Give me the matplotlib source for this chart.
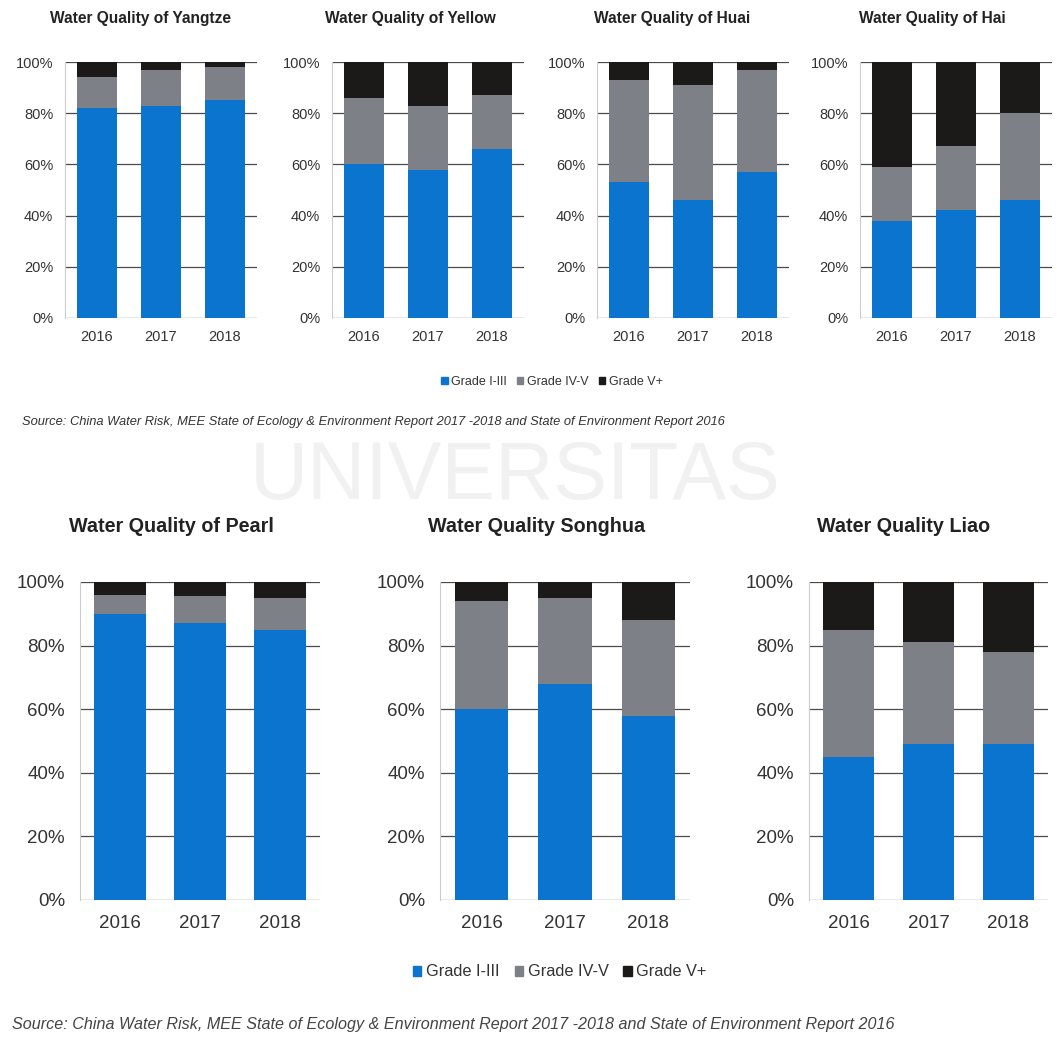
import numpy as np
import matplotlib.pyplot as plt
from matplotlib.patches import Patch

plt.rcParams['font.family'] = ['Liberation Sans', 'DejaVu Sans']

# ---------- data ----------
years = ['2016', '2017', '2018']
grades = ['Grade I-III', 'Grade IV-V', 'Grade V+']

yangtze_good = [82, 83, 85]
yangtze_mid = [12, 14, 13]
yangtze_bad = [6, 3, 2]

yellow_good = [60, 58, 66]
yellow_mid = [26, 25, 21]
yellow_bad = [14, 17, 13]

huai_good = [53, 46, 57]
huai_mid = [40, 45, 40]
huai_bad = [7, 9, 3]

hai_good = [38, 42, 46]
hai_mid = [21, 25, 34]
hai_bad = [41, 33, 20]

pearl_good = [90, 87, 85]
pearl_mid = [6, 8.5, 10]
pearl_bad = [4, 4.5, 5]

songhua_good = [60, 68, 58]
songhua_mid = [34, 27, 30]
songhua_bad = [6, 5, 12]

liao_good = [45, 49, 49]
liao_mid = [40, 32, 29]
liao_bad = [15, 19, 22]

source_text = ('Source: China Water Risk, MEE State of Ecology & Environment Report 2017 -2018 '
               'and State of Environment Report 2016')

colors = ['#0B74CF', '#7E8087', '#1B1A18']

# ---------- layout (pixels) ----------
W, H = 1057, 1043
fig = plt.figure(figsize=(W / 100, H / 100), dpi=100)
fig.patch.set_facecolor('white')


def px_axes(x0, y0, x1, y1):
    # y0 = top edge, y1 = bottom edge in pixel coordinates
    return fig.add_axes([x0 / W, 1 - y1 / H, (x1 - x0) / W, (y1 - y0) / H])


def draw_panel(ax, good, mid, bad, fs, pad):
    x = np.arange(len(years))
    ax.set_axisbelow(True)
    ax.bar(x, good, width=0.64, color=colors[0], zorder=3)
    ax.bar(x, mid, width=0.64, bottom=good, color=colors[1], zorder=3)
    ax.bar(x, bad, width=0.64, bottom=np.add(good, mid), color=colors[2], zorder=3)
    ax.set_xlim(-0.5, 2.5)
    ax.set_ylim(0, 100)
    ax.set_yticks(range(0, 101, 20))
    ax.set_yticklabels([f'{v}%' for v in range(0, 101, 20)])
    ax.set_xticks(x)
    ax.set_xticklabels(years)
    ax.grid(axis='y', color='#4a4a4a', linewidth=0.9, zorder=0)
    ax.tick_params(length=0, labelsize=fs, colors='#333333')
    ax.tick_params(axis='x', pad=pad)
    ax.tick_params(axis='y', pad=fs * 0.8)
    for side in ['top', 'right', 'bottom']:
        ax.spines[side].set_visible(False)
    ax.spines['left'].set_color('#cccccc')
    ax.spines['left'].set_linewidth(0.8)
    ax.set_facecolor('none')


# faint watermark behind everything
fig.text(515 / W, 1 - 478 / H, 'UNIVERSITAS', fontsize=58, color='#f1f1f1',
         ha='center', va='center', zorder=0)

# ---------- top row ----------
top_panels = [
    ('Water Quality of Yangtze', 65, 140, yangtze_good, yangtze_mid, yangtze_bad),
    ('Water Quality of Yellow', 332, 410, yellow_good, yellow_mid, yellow_bad),
    ('Water Quality of Huai', 597, 672, huai_good, huai_mid, huai_bad),
    ('Water Quality of Hai', 860, 932, hai_good, hai_mid, hai_bad),
]
for title, left, tx, g, m, b in top_panels:
    ax = px_axes(left, 62, left + 192, 318)
    draw_panel(ax, g, m, b, 10.5, 9)
    fig.text(tx / W, 1 - 18 / H, title, fontsize=11.2, fontweight='bold',
             color='#222222', ha='center', va='center')

handles = [Patch(color=c, label=l) for c, l in zip(colors, grades)]
fig.legend(handles=handles, loc='center', bbox_to_anchor=(552 / W, 1 - 382 / H), ncol=3,
           frameon=False, fontsize=9, handlelength=0.5, handleheight=0.5,
           handletextpad=0.3, columnspacing=0.8, labelcolor='#333333')
fig.text(22 / W, 1 - 422 / H, source_text, fontsize=9.3,
         style='italic', color='#333333', ha='left', va='center')

# ---------- bottom row ----------
bottom_panels = [
    ('Water Quality of Pearl', 80, 320, 171, pearl_good, pearl_mid, pearl_bad),
    ('Water Quality Songhua', 440, 690, 537, songhua_good, songhua_mid, songhua_bad),
    ('Water Quality Liao', 809, 1048, 904, liao_good, liao_mid, liao_bad),
]
for title, left, right, tx, g, m, b in bottom_panels:
    ax = px_axes(left, 582, right, 900)
    draw_panel(ax, g, m, b, 13.5, 11)
    fig.text(tx / W, 1 - 527 / H, title, fontsize=14.2, fontweight='bold',
             color='#222222', ha='center', va='center')

fig.legend(handles=handles, loc='center', bbox_to_anchor=(560 / W, 1 - 972 / H), ncol=3,
           frameon=False, fontsize=11.8, handlelength=0.5, handleheight=0.6,
           handletextpad=0.3, columnspacing=0.9, labelcolor='#333333')
fig.text(12 / W, 1 - 1025 / H, source_text,
         fontsize=11.6, style='italic', color='#444444', ha='left', va='center')

fig.savefig('out.png', dpi=100)
